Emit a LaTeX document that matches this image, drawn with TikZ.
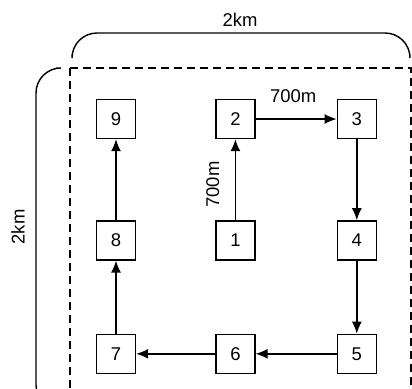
\documentclass[tikz,border=0pt]{standalone}
\usepackage{fontspec}
\setmainfont{Liberation Sans}
\usetikzlibrary{positioning,arrows.meta}

\begin{document}
\begin{tikzpicture}[
  font=\fontsize{10.5}{12}\selectfont,
  site/.style={draw, line width=0.8pt, minimum size=0.78cm, inner sep=0pt},
  arr/.style={-{Latex[length=2.4mm,width=2mm]}, line width=0.8pt},
  dim/.style={line width=0.8pt, rounded corners=0.5cm},
  lab/.style={inner sep=2pt}
]
\clip (0,0) rectangle (8.24,-7.76);
% area boundary
\draw[line width=0.8pt, dash pattern=on 0.16cm off 0.1cm] (1.4,-1.36) rectangle (8.22,-8.4);
\draw[dim] (1.44,-1.08) -- (1.44,-0.66) -- (8.2,-0.66) -- (8.2,-1.08);
\draw[dim] (1.12,-1.36) -- (0.72,-1.36) -- (0.72,-8.2) -- (1.12,-8.2);
\node[lab] (top) at (4.8,-0.4) {2km};
\node[lab, rotate=90] (side) at (0.36,-4.54) {2km};
% sites
\node[site] (n9) at (2.32,-2.38) {9};
\node[site, right=1.58cm of n9] (n2) {2};
\node[site, right=1.62cm of n2] (n3) {3};
\node[site, below=1.62cm of n9] (n8) {8};
\node[site, below=1.62cm of n2] (n1) {1};
\node[site, below=1.62cm of n3] (n4) {4};
\node[site, below=1.46cm of n8] (n7) {7};
\node[site, below=1.46cm of n1] (n6) {6};
\node[site, below=1.46cm of n4] (n5) {5};
% route
\draw[arr] (n1) -- node[lab, pos=0.44, above=0.24cm, sloped] {700m} (n2);
\draw[arr] (n2) -- node[lab, midway, above=0.24cm, xshift=-0.06cm] {700m} (n3);
\draw[arr] (n3) -- (n4);
\draw[arr] (n4) -- (n5);
\draw[arr] (n5) -- (n6);
\draw[arr] (n6) -- (n7);
\draw[arr] (n7) -- (n8);
\draw[arr] (n8) -- (n9);
\end{tikzpicture}
\end{document}
